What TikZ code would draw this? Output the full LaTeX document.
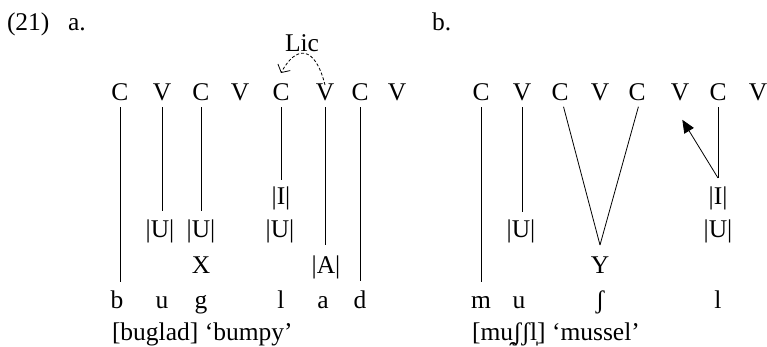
\documentclass[tikz,border=0pt]{standalone}
\usepackage{fontspec}
\setmainfont{Liberation Serif}
\usetikzlibrary{arrows.meta,calc}
\begin{document}
\begin{tikzpicture}[x=1pt,y=1pt,
  every node/.style={font=\fontsize{25.5}{30}\selectfont, inner sep=0pt, outer sep=0pt,
    anchor=base, text height=16pt, text depth=0pt},
  ln/.style={line width=0.8pt},
  stem/.style={ln, shorten <=6pt},
  licarrow/.style={ln, dash pattern=on 3pt off 2pt, -{Straight Barb[length=6pt,width=14pt]}},
  tail/.style={ln, -{Triangle[length=13pt,width=11pt]}}
]
\useasboundingbox (0,0) rectangle (767,346);

% headings
\node[anchor=base west] (num) at (7,315) {(21)};
\node[anchor=base west] (la) at (68,315) {a.};
\node[anchor=base west] (lb) at (432,315) {b.};

% ---------- part a ----------
\node (ac1) at (120,245) {C};
\node (av1) at (162,245) {V};
\node (ac2) at (201,245) {C};
\node (av2) at (240,245) {V};
\node (ac3) at (281,245) {C};
\node (av3) at (325,245) {V};
\node (ac4) at (360,245) {C};
\node (av4) at (397,245) {V};

\node (lic) at (302,294) {Lic};

\node (aI)  at (281,142) {|I|};
\node (aU1) at (160,109) {|U|};
\node (aU2) at (201,109) {|U|};
\node (aU3) at (280,109) {|U|};
\node (aX)  at (201,73) {X};
\node (aA)  at (326,73) {|A|};

\node (ab) at (117,38) {b};
\node (au) at (162,38) {u};
\node (ag) at (201,38) {g};
\node (al) at (281,38) {l};
\node (aa) at (323,38) {a};
\node (ad) at (360,38) {d};

\draw[stem, shorten >=10pt] (ac1.south) -- (ac1.south |- ab.north);
\draw[stem, shorten >=10pt] (av1.south) -- (av1.south |- aU1.north);
\draw[stem, shorten >=10pt] (ac2.south) -- (ac2.south |- aU2.north);
\draw[stem, shorten >=8pt]  (ac3.south) -- (ac3.south |- aI.north);
\draw[stem, shorten >=12pt] (av3.south) -- (av3.south |- aA.north);
\draw[stem, shorten >=11pt] (ac4.south) -- (ac4.south |- ad.north);

\coordinate (lictip) at ([yshift=12pt]ac3.north);
\draw[licarrow] (av3.north) .. controls ($(av3.north)+(-10,40)$) and ($(lictip)+(15,28)$) .. (lictip);

\node[anchor=base west] (capa) at (112,6) {[buglad] ‘bumpy’};

% ---------- part b ----------
\node (bc1) at (481,245) {C};
\node (bv1) at (522,245) {V};
\node (bc2) at (560,245) {C};
\node (bv2) at (600,245) {V};
\node (bc3) at (637,245) {C};
\node (bv3) at (680,245) {V};
\node (bc4) at (718,245) {C};
\node (bv4) at (758,245) {V};

\node (bI)  at (718,142) {|I|};
\node (bU)  at (521,109) {|U|};
\node (bU2) at (718,109) {|U|};
\node (bY)  at (600,73) {Y};

\node (bm)  at (481,38) {m};
\node (bu)  at (519,38) {u};
\node (bsh) at (600,38) {ʃ};
\node (bl)  at (718,38) {l};

\draw[stem, shorten >=10pt] (bc1.south) -- (bc1.south |- bm.north);
\draw[stem, shorten >=9pt]  (bv1.south) -- (bv1.south |- bU.north);
\coordinate (yapex) at ([yshift=12pt]bY.north);
\draw[stem] ([xshift=2pt]bc2.south) -- (yapex);
\draw[stem] ([xshift=3pt]bc3.south) -- (yapex);
\coordinate (bj) at ([yshift=10pt]bI.north);
\draw[stem] (bc4.south) -- (bj);
\draw[tail, shorten >=22pt] (bj) -- (bv3.south west);

\node[anchor=base west] (capb) at (472,6) {[mu̯ʃʃl̩] ‘mussel’};
\end{tikzpicture}
\end{document}
